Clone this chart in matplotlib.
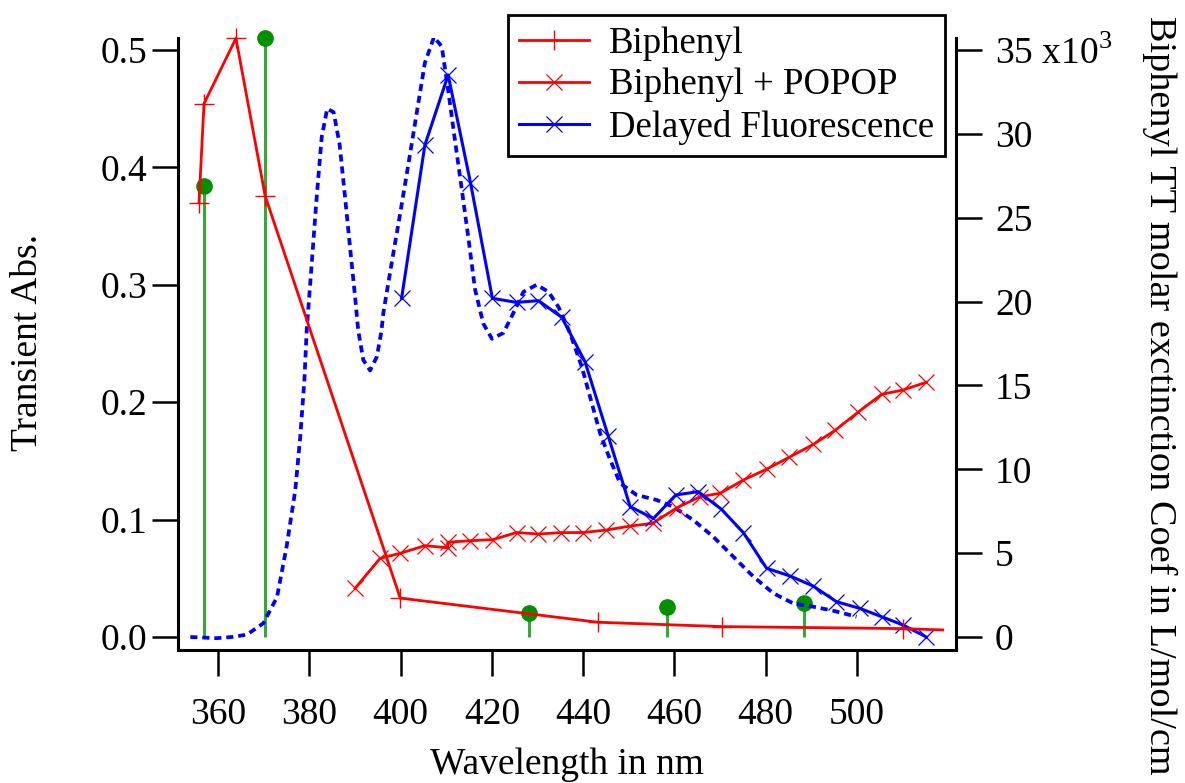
import numpy as np
import matplotlib
matplotlib.use("Agg")
import matplotlib.pyplot as plt

plt.rcParams['font.family'] = ['Liberation Serif', 'DejaVu Serif']
plt.rcParams['mathtext.fontset'] = 'custom'
plt.rcParams['mathtext.rm'] = 'Liberation Serif'

# Biphenyl TT extinction (right axis, x10^3 L/mol/cm)
biph_x = [355.8, 356.9, 363.9, 370.3, 399.9, 443.2, 470.4, 510.1, 518.8]
biph_y = [25.9, 31.8, 35.7, 26.3, 2.32, 0.88, 0.62, 0.50, 0.42]

# Biphenyl + POPOP (left axis)
popop_x = [390.0, 395.5, 399.9, 405.3, 410.3, 410.3, 415.2, 420.3, 425.4, 430.2, 435.1,
           440.0, 445.1, 450.3, 455.2, 460.5, 465.6, 470.0, 475.1, 480.2, 485.1, 490.4,
           495.2, 500.3, 505.4, 510.1, 515.2]
popop_y = [0.0415, 0.067, 0.0713, 0.0778, 0.076, 0.0807, 0.082, 0.083, 0.089, 0.0877, 0.0889,
           0.089, 0.0911, 0.0945, 0.0968, 0.110, 0.1195, 0.1224, 0.1337, 0.143, 0.153, 0.164,
           0.176, 0.1917, 0.2067, 0.2104, 0.217]

# Delayed fluorescence (left axis)
df_x = [400.2, 405.3, 410.4, 415.3, 420.1, 425.4, 430.2, 435.3, 440.4, 445.5, 450.3, 455.4,
        460.3, 465.2, 470.3, 475.1, 480.2, 485.3, 490.4, 495.5, 500.6, 505.4, 510.1, 515.2]
df_y = [0.2885, 0.419, 0.4787, 0.387, 0.2885, 0.285, 0.2865, 0.2723, 0.2345, 0.171, 0.111, 0.101,
        0.121, 0.1238, 0.1088, 0.0889, 0.0585, 0.052, 0.0434, 0.0301, 0.0244, 0.0173, 0.0102, 0.0]

# Dotted spectrum (left axis)
spec_x = [353.9, 359.7, 363.0, 366.3, 369.9, 372.9, 375.0, 376.9, 378.0, 378.9, 379.4, 380.5,
          381.6, 382.7, 383.9, 385.3, 386.6, 387.8, 388.9, 390.0, 390.7, 391.8, 393.3, 394.8,
          395.8, 396.2, 398.0, 399.9, 401.7, 403.5, 405.3, 407.3, 409.0, 410.4, 411.9, 413.4,
          414.9, 416.3, 418.1, 420.0, 422.5, 424.7, 426.9, 429.8, 432.4, 434.6, 437.1, 439.7,
          443.7, 445.9, 448.1, 451.7, 456.1, 459.7, 464.1, 468.5, 472.9, 477.3, 481.7, 486.0,
          490.4, 494.8, 499.9]
spec_y = [0.0, -0.001, 0.0, 0.002, 0.0117, 0.034, 0.077, 0.125, 0.171, 0.219, 0.261, 0.318,
          0.375, 0.426, 0.450, 0.447, 0.420, 0.375, 0.332, 0.290, 0.261, 0.236, 0.227, 0.239,
          0.261, 0.276, 0.318, 0.361, 0.403, 0.446, 0.489, 0.511, 0.503, 0.466, 0.423, 0.381,
          0.338, 0.296, 0.267, 0.254, 0.259, 0.276, 0.294, 0.300, 0.294, 0.281, 0.259, 0.230,
          0.1735, 0.151, 0.131, 0.121, 0.1167, 0.111, 0.0997, 0.0854, 0.0684, 0.0514, 0.0372, 0.0287,
          0.0258, 0.0224, 0.0173]

# Green stems (left axis)
stem_x = [356.9, 370.3, 428.1, 458.4, 488.4]
stem_y = [0.384, 0.510, 0.0204, 0.0256, 0.029]

x_ticks = [360, 380, 400, 420, 440, 460, 480, 500]
left_ticks = [0.0, 0.1, 0.2, 0.3, 0.4, 0.5]
right_ticks = [0, 5, 10, 15, 20, 25, 30, 35]
right_labels = ['0', '5', '10', '15', '20', '25', '30', r'35 x10$^{3}$']

fig = plt.figure(figsize=(11.85, 7.83), dpi=100)
ax = fig.add_axes([178 / 1185, 1 - 650 / 783, (956 - 178) / 1185, (650 - 38) / 783])
ax2 = ax.twinx()

ylo, yhi = -13 / 1174, 0.5 + 12 / 1174
ax.set_xlim(351.2, 521.7)
ax.set_ylim(ylo, yhi)
ax2.set_ylim(ylo * 70, yhi * 70)

# stems
ax.vlines(stem_x, 0, stem_y, color='#33aa33', lw=2.2, zorder=1)
ax.plot(stem_x, stem_y, 'o', color='#009000', ms=11, zorder=2, clip_on=False)

ax.plot(spec_x, spec_y, color='#0000ff', lw=2.7, dashes=(1.9, 1.3), zorder=2)

l1, = ax2.plot(biph_x, biph_y, color='#ff0000', lw=2.0, marker='+', ms=14, mew=1.0,
               markevery=list(range(len(biph_x) - 1)), zorder=3, clip_on=False)
l2, = ax.plot(popop_x, popop_y, color='#ff0000', lw=2.0, marker='x', ms=11, mew=0.9, zorder=3)
l3, = ax.plot(df_x, df_y, color='#0000ff', lw=2.2, marker='x', ms=12, mew=0.9, zorder=4)

for a in (ax, ax2):
    a.spines['top'].set_visible(False)
    for s in a.spines.values():
        s.set_linewidth(2.2)
ax.spines['right'].set_visible(False)
ax2.spines['left'].set_visible(False)
ax2.spines['bottom'].set_visible(False)

ax.set_xticks(x_ticks)
ax.set_yticks(left_ticks)
ax.set_yticklabels([f'{v:.1f}' for v in left_ticks])
ax2.set_yticks(right_ticks)
ax2.set_yticklabels(right_labels)

ax.tick_params(axis='x', direction='out', length=19, width=1.8, labelsize=27, pad=15)
ax.tick_params(axis='y', direction='out', length=19, width=1.8, labelsize=27, pad=3)
ax2.tick_params(axis='y', direction='out', length=19, width=1.8, labelsize=27, pad=9)

fig.text(567 / 1185, 1 - 765 / 783, 'Wavelength in nm', ha='center', va='center', fontsize=27)
fig.text(28 / 1185, 1 - 342 / 783, 'Transient Abs.', ha='center', va='center',
         rotation=90, fontsize=27)
fig.text(1160 / 1185, 1 - 395 / 783, 'Biphenyl TT molar exctinction Coef in L/mol/cm',
         ha='center', va='center', rotation=-90, fontsize=27.5)

leg = fig.legend([l1, l2, l3], ['Biphenyl', 'Biphenyl + POPOP', 'Delayed Fluorescence'],
                 loc='upper left', bbox_to_anchor=(508 / 1185, 1 - 15 / 783),
                 fontsize=26.5, frameon=True, fancybox=False, framealpha=1,
                 edgecolor='black', handlelength=1.9, handletextpad=0.55,
                 labelspacing=0.2, borderpad=0.3, borderaxespad=0, numpoints=1)
leg.get_frame().set_linewidth(2.0)

fig.savefig('out.png', dpi=100)
